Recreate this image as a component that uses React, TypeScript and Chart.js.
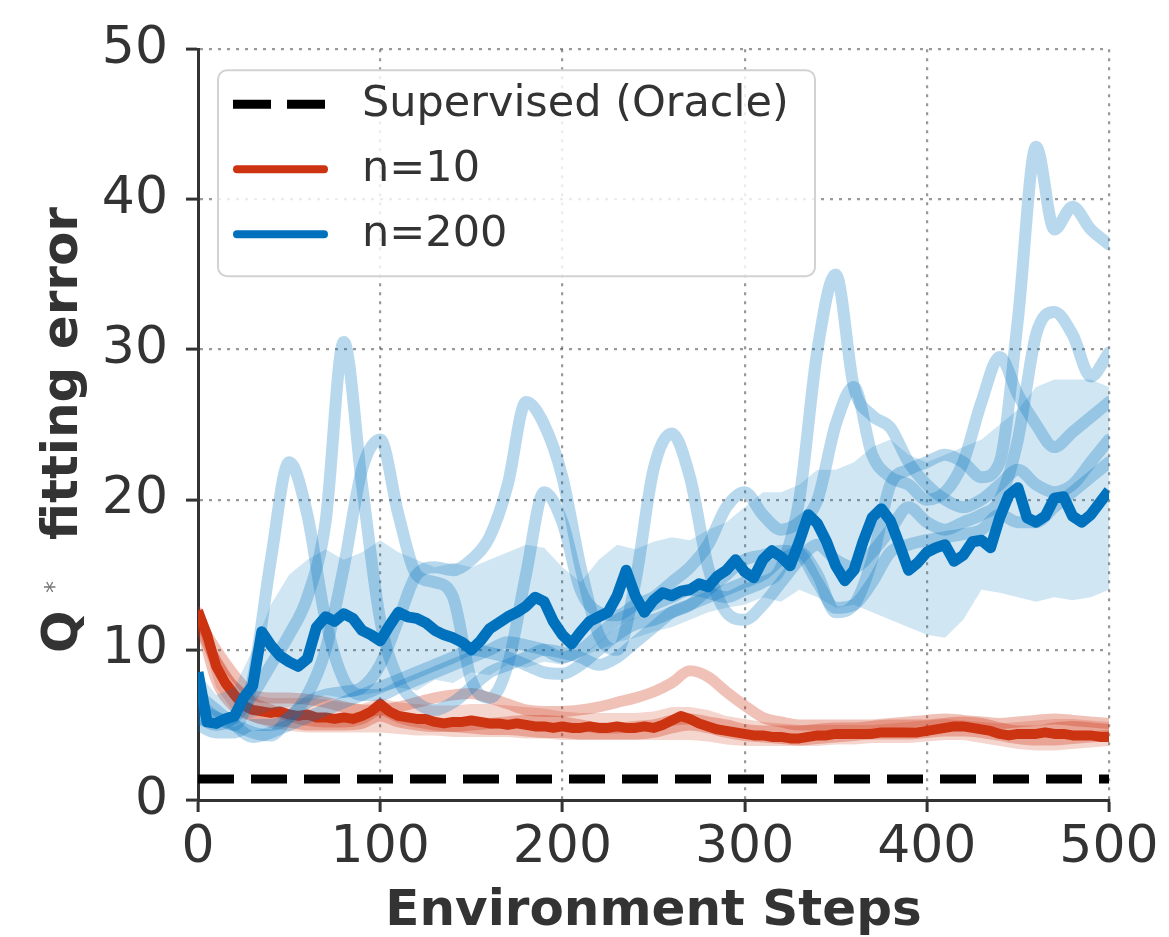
import { useEffect, useRef } from "react";
import { Chart, registerables } from "chart.js";

Chart.register(...registerables);

const FONT = "'DejaVu Sans', 'Liberation Sans', sans-serif";
const TEXT = "#333333";
const BLUE = "rgb(0,114,189)";
const RED = "rgb(204,51,17)";

// ---------- axes ----------
const X_MIN = 0;
const X_MAX = 500;
const X_STEP = 100;
const Y_MIN = 0;
const Y_MAX = 50;
const Y_STEP = 10;
const X_TITLE = "Environment Steps";
const Y_TITLE_MAIN = "Q";
const Y_TITLE_SUP = "*";
const Y_TITLE_REST = "fitting error";
const LEGEND_LABELS = ["Supervised (Oracle)", "n=10", "n=200"];

// ---------- data ----------
const ORACLE_ERROR = 1.4;

// x grids (environment steps)
const stepsCoarse = Array.from({ length: 51 }, (_, i) => i * 10);
const stepsFine = Array.from({ length: 101 }, (_, i) => i * 5);

// n=200 mean (every 5 steps)
const blueMean = [
  8.5, 5.2, 5.1, 5.4, 5.6, 6.8, 7.6, 11.2, 10.3, 9.6,
  9.2, 8.9, 9.4, 11.5, 12.2, 11.9, 12.4, 12.1, 11.3, 11.0,
  10.6, 11.6, 12.5, 12.2, 12.1, 11.8, 11.3, 11.0, 10.8, 10.5,
  10.0, 10.6, 11.4, 11.8, 12.2, 12.5, 12.9, 13.5, 13.2, 11.9,
  11.0, 10.4, 11.2, 11.9, 12.2, 12.5, 13.6, 15.3, 13.6, 12.5,
  13.3, 13.8, 13.6, 13.9, 14.0, 14.4, 14.2, 14.9, 15.3, 16.0,
  15.2, 14.8, 16.0, 16.6, 16.2, 15.6, 17.2, 19.0, 18.4, 17.2,
  15.6, 14.6, 15.3, 17.2, 18.8, 19.4, 18.6, 17.0, 15.3, 15.8,
  16.5, 16.8, 17.0, 15.9, 16.3, 17.2, 17.3, 16.8, 18.8, 20.3,
  20.8, 18.8, 18.5, 18.9, 20.1, 20.2, 18.9, 18.5, 19.0, 19.8,
  20.6,
];

// n=10 mean (every 5 steps)
const redMean = [
  12.6, 11.0, 8.9, 7.8, 7.0, 6.3, 6.0, 5.9, 5.8, 5.9,
  5.7, 5.6, 5.7, 5.5, 5.5, 5.4, 5.5, 5.4, 5.6, 5.9,
  6.4, 5.9, 5.6, 5.5, 5.4, 5.4, 5.2, 5.1, 5.2, 5.2,
  5.3, 5.2, 5.1, 5.1, 5.0, 5.1, 5.0, 4.9, 4.9, 4.8,
  4.9, 4.8, 4.8, 4.9, 4.8, 4.8, 4.9, 4.8, 4.8, 4.9,
  4.8, 5.0, 5.3, 5.6, 5.4, 5.1, 4.9, 4.7, 4.6, 4.5,
  4.4, 4.3, 4.3, 4.2, 4.2, 4.1, 4.1, 4.2, 4.3, 4.3,
  4.4, 4.4, 4.4, 4.4, 4.4, 4.5, 4.5, 4.5, 4.5, 4.5,
  4.6, 4.7, 4.8, 4.9, 4.9, 4.8, 4.7, 4.6, 4.4, 4.3,
  4.4, 4.4, 4.4, 4.5, 4.4, 4.4, 4.3, 4.3, 4.3, 4.2,
  4.2,
];

// shaded bands (every 10 steps)
const blueBandLow = [
  5.0, 4.8, 5.0, 5.5, 6.0, 6.2, 6.5, 7.0, 6.8, 7.0,
  7.2, 7.5, 7.3, 8.0, 7.8, 8.5, 8.3, 9.0, 8.8, 9.2,
  9.0, 9.5, 10.0, 10.5, 10.8, 11.2, 11.5, 12.0, 12.5, 12.8,
  13.0, 13.5, 13.2, 14.0, 13.5, 12.8, 13.0, 12.5, 12.0, 11.5,
  11.0, 10.8, 12.0, 14.0, 13.8, 13.5, 13.2, 13.5, 13.3, 13.5,
  14.0,
];
const blueBandHigh = [
  8.5, 7.0, 7.5, 10.0, 13.0, 15.0, 16.0, 16.7, 16.0, 16.5,
  17.3, 16.5, 16.0, 15.5, 15.8, 15.5, 16.0, 16.5, 17.0, 16.8,
  15.5, 14.5, 16.0, 17.0, 16.7, 17.2, 17.5, 17.3, 18.0, 18.5,
  19.5, 20.5, 20.5, 21.0, 22.0, 22.0, 22.5, 23.5, 24.0, 23.0,
  22.5, 23.0, 23.5, 24.0, 25.0, 26.0, 27.5, 28.0, 28.0, 28.0,
  27.5,
];
const redBandLow = [
  11.5, 7.5, 5.8, 5.2, 4.8, 4.6, 4.5, 4.5, 4.5, 4.5,
  4.5, 4.4, 4.3, 4.3, 4.2, 4.2, 4.2, 4.2, 4.1, 4.1,
  4.0, 4.0, 4.0, 4.0, 4.0, 4.0, 4.0, 4.0, 3.9, 3.7,
  3.6, 3.6, 3.6, 3.6, 3.6, 3.7, 3.7, 3.8, 3.8, 3.8,
  3.9, 4.0, 4.0, 3.8, 3.6, 3.4, 3.3, 3.3, 3.4, 3.5,
  3.6,
];
const redBandHigh = [
  12.8, 10.0, 8.0, 7.0, 6.8, 6.8, 6.8, 6.7, 6.5, 6.4,
  6.8, 6.5, 6.4, 6.3, 6.3, 6.4, 6.4, 6.3, 6.2, 6.1,
  5.9, 5.8, 5.8, 5.8, 5.8, 5.9, 6.2, 6.2, 6.0, 5.6,
  5.4, 5.2, 5.1, 5.0, 5.0, 5.0, 5.0, 5.0, 5.1, 5.2,
  5.3, 5.4, 5.3, 5.2, 5.1, 5.2, 5.3, 5.4, 5.4, 5.3,
  5.2,
];

// individual n=200 runs (every 10 steps)
const blueRun1 = [
  6.5, 5.5, 5.0, 8.0, 16.0, 22.5, 19.0, 12.0, 8.0, 7.0,
  7.0, 7.5, 8.0, 8.5, 9.0, 9.5, 10.0, 10.5, 10.3, 10.0,
  9.5, 10.0, 11.0, 12.0, 12.5, 13.0, 13.5, 14.0, 13.8, 13.5,
  14.0, 14.5, 15.5, 20.0, 30.0, 35.0, 27.5, 25.6, 24.8, 22.5,
  21.0, 20.0, 19.5, 20.0, 21.0, 22.0, 21.0, 20.5, 21.0, 22.5,
  24.0,
];
const blueRun2 = [
  5.5, 5.0, 5.5, 7.0, 9.0, 11.0, 13.5, 18.5, 30.5, 21.0,
  12.0, 8.0, 6.5, 6.0, 6.5, 7.5, 8.5, 9.0, 9.5, 10.0,
  9.8, 9.5, 9.0, 9.5, 10.5, 11.5, 12.5, 13.0, 13.5, 14.0,
  14.5, 15.0, 16.0, 16.5, 15.0, 12.5, 13.0, 16.0, 21.0, 22.0,
  22.5, 23.0, 22.5, 21.5, 22.5, 32.0, 43.5, 38.0, 39.5, 38.0,
  37.0,
];
const blueRun3 = [
  5.0, 4.5, 4.5, 5.0, 5.0, 5.5, 7.0, 10.0, 15.5, 22.0,
  24.0, 19.0, 15.0, 14.5, 13.5, 8.0, 6.8, 9.0, 15.0, 20.5,
  18.5, 14.0, 12.5, 12.3, 13.0, 13.5, 14.5, 15.5, 17.0, 19.5,
  20.5, 19.0, 18.0, 18.5, 20.0, 25.0, 27.5, 23.0, 21.5, 21.0,
  20.0, 20.5, 22.5, 26.5, 29.5, 27.0, 25.0, 23.5, 24.5, 25.5,
  26.5,
];
const blueRun4 = [
  6.0, 5.5, 5.0, 4.5, 4.3, 5.5, 6.5, 7.0, 7.2, 7.5,
  9.0, 12.0, 15.0, 15.5, 15.3, 16.0, 17.5, 21.0, 26.5, 25.0,
  21.5, 15.5, 11.0, 10.0, 14.5, 22.0, 24.4, 21.5, 15.5, 12.5,
  12.0, 13.0, 14.5, 16.0, 17.0, 16.0, 15.5, 16.5, 18.0, 19.5,
  18.5, 18.0, 18.5, 19.0, 20.0, 24.0, 31.0, 32.5, 31.0, 28.2,
  29.8,
];
const blueRun5 = [
  7.0, 6.0, 5.0, 4.2, 4.5, 5.0, 5.5, 6.0, 6.5, 7.0,
  7.5, 8.0, 8.5, 9.0, 9.5, 10.0, 9.8, 9.5, 9.0, 8.5,
  8.4, 9.0, 10.0, 11.0, 11.7, 12.0, 12.5, 13.0, 14.0, 15.0,
  16.0, 16.3, 16.6, 16.4, 14.5, 12.8, 13.0, 14.5, 16.5, 17.0,
  17.3, 17.5, 17.7, 18.0, 19.0, 18.5, 18.5, 19.5, 20.5, 21.5,
  22.5,
];

// individual n=10 runs (every 10 steps)
const redRun1 = [
  12.0, 10.0, 8.3, 7.0, 6.8, 6.8, 6.7, 6.5, 6.2, 6.0,
  6.0, 6.2, 6.5, 6.8, 7.0, 7.1, 6.8, 6.4, 6.0, 5.9,
  5.9, 6.0, 6.2, 6.5, 6.8, 7.2, 7.8, 8.6, 8.2, 7.2,
  6.3, 5.5, 5.2, 5.0, 5.0, 5.0, 5.0, 5.0, 5.1, 5.2,
  5.3, 5.4, 5.3, 5.2, 5.1, 5.2, 5.3, 5.4, 5.3, 5.2,
  5.1,
];
const redRun2 = [
  11.8, 9.2, 7.5, 6.5, 6.0, 5.6, 5.3, 5.2, 5.2, 5.4,
  6.0, 5.5, 5.2, 5.0, 4.9, 4.8, 4.7, 4.7, 4.6, 4.5,
  4.5, 4.4, 4.4, 4.4, 4.4, 4.5, 4.8, 5.0, 4.8, 4.5,
  4.3, 4.2, 4.1, 4.0, 4.1, 4.2, 4.3, 4.4, 4.4, 4.4,
  4.5, 4.6, 4.6, 4.5, 4.3, 4.1, 4.0, 4.0, 4.1, 4.2,
  4.3,
];
const redRun3 = [
  12.5, 8.0, 6.2, 5.6, 5.3, 5.2, 5.0, 5.0, 5.0, 5.1,
  5.6, 5.2, 5.0, 4.9, 4.9, 5.0, 5.1, 5.2, 5.3, 5.3,
  5.2, 5.0, 4.8, 4.8, 4.9, 5.0, 5.3, 5.4, 5.2, 5.0,
  4.7, 4.6, 4.6, 4.6, 4.7, 4.8, 4.8, 4.9, 5.0, 5.0,
  5.0, 5.1, 5.2, 5.1, 4.8, 4.6, 4.6, 4.8, 4.9, 4.8,
  4.7,
];

const blueRuns = [blueRun1, blueRun2, blueRun3, blueRun4, blueRun5];
const redRuns = [redRun1, redRun2, redRun3];

const toPoints = (xs: number[], ys: number[]) => ys.map((y, i) => ({ x: xs[i], y }));

export default function App() {
  const canvasRef = useRef<HTMLCanvasElement | null>(null);

  useEffect(() => {
    const canvas = canvasRef.current;
    if (!canvas) return;

    const datasets: any[] = [];
    let order = 100;

    // oracle dashed line
    datasets.push({
      label: LEGEND_LABELS[0],
      data: [
        { x: X_MIN, y: ORACLE_ERROR },
        { x: X_MAX, y: ORACLE_ERROR },
      ],
      borderColor: "#000000",
      borderWidth: 9,
      borderDash: [36, 17],
      borderCapStyle: "butt",
      pointRadius: 0,
      order: order--,
    });

    // red band
    datasets.push({
      data: toPoints(stepsCoarse, redBandLow),
      borderWidth: 0,
      borderColor: "rgba(0,0,0,0)",
      pointRadius: 0,
      fill: false,
      order: order--,
    });
    datasets.push({
      data: toPoints(stepsCoarse, redBandHigh),
      borderWidth: 0,
      borderColor: "rgba(0,0,0,0)",
      backgroundColor: "rgba(204,51,17,0.2)",
      pointRadius: 0,
      fill: "-1",
      order: order--,
    });
    // red runs
    redRuns.forEach((run) => {
      datasets.push({
        data: toPoints(stepsCoarse, run),
        borderColor: "rgba(204,51,17,0.3)",
        borderWidth: 11,
        borderJoinStyle: "round",
        borderCapStyle: "round",
        cubicInterpolationMode: "monotone",
        pointRadius: 0,
        order: order--,
      });
    });
    // red mean
    datasets.push({
      label: LEGEND_LABELS[1],
      data: toPoints(stepsFine, redMean),
      borderColor: RED,
      borderWidth: 10,
      borderJoinStyle: "round",
      pointRadius: 0,
      order: order--,
    });

    // blue band
    datasets.push({
      data: toPoints(stepsCoarse, blueBandLow),
      borderWidth: 0,
      borderColor: "rgba(0,0,0,0)",
      pointRadius: 0,
      fill: false,
      order: order--,
    });
    datasets.push({
      data: toPoints(stepsCoarse, blueBandHigh),
      borderWidth: 0,
      borderColor: "rgba(0,0,0,0)",
      backgroundColor: "rgba(0,114,189,0.18)",
      pointRadius: 0,
      fill: "-1",
      order: order--,
    });
    // blue runs
    blueRuns.forEach((run) => {
      datasets.push({
        data: toPoints(stepsCoarse, run),
        borderColor: "rgba(0,114,189,0.28)",
        borderWidth: 12,
        borderJoinStyle: "round",
        borderCapStyle: "round",
        cubicInterpolationMode: "monotone",
        pointRadius: 0,
        order: order--,
      });
    });
    // blue mean
    datasets.push({
      label: LEGEND_LABELS[2],
      data: toPoints(stepsFine, blueMean),
      borderColor: BLUE,
      borderWidth: 11,
      borderJoinStyle: "round",
      pointRadius: 0,
      order: order--,
    });

    const overlay = {
      id: "overlay",
      afterDraw(chart: any) {
        const { ctx, chartArea } = chart;
        ctx.save();

        // ----- legend -----
        const bx = chartArea.left + 20;
        const by = chartArea.top + 21;
        const bw = 597;
        const bh = 206;
        ctx.beginPath();
        ctx.roundRect(bx, by, bw, bh, 9);
        ctx.fillStyle = "rgba(255,255,255,0.82)";
        ctx.fill();
        ctx.lineWidth = 2;
        ctx.strokeStyle = "#d2d2d2";
        ctx.stroke();

        const rows = [by + 34, by + 99, by + 164];
        const sx0 = bx + 15;
        const sx1 = bx + 110;
        const styles = [
          { color: "#000000", dash: [38, 16], width: 9, cap: "butt" },
          { color: RED, dash: [], width: 8, cap: "round" },
          { color: BLUE, dash: [], width: 8, cap: "round" },
        ];
        rows.forEach((ry, i) => {
          const st = styles[i];
          ctx.beginPath();
          ctx.setLineDash(st.dash);
          ctx.lineCap = st.cap;
          ctx.lineWidth = st.width;
          ctx.strokeStyle = st.color;
          const inset = st.cap === "round" ? 4 : 0;
          ctx.moveTo(sx0 + inset, ry);
          ctx.lineTo(sx1 - inset, ry);
          ctx.stroke();
          ctx.setLineDash([]);
          ctx.font = `43px ${FONT}`;
          ctx.fillStyle = TEXT;
          ctx.textAlign = "left";
          ctx.textBaseline = "middle";
          ctx.fillText(LEGEND_LABELS[i], bx + 144, ry + 1);
        });

        // ----- y axis title -----
        ctx.translate(77, chartArea.bottom - 147);
        ctx.rotate(-Math.PI / 2);
        ctx.textAlign = "left";
        ctx.textBaseline = "alphabetic";
        ctx.fillStyle = TEXT;
        ctx.font = `bold 50px ${FONT}`;
        ctx.fillText(Y_TITLE_MAIN, 0, 0);
        ctx.font = `24px ${FONT}`;
        ctx.fillStyle = "#777777";
        ctx.fillText(Y_TITLE_SUP, 60, -15);
        ctx.font = `bold 50px ${FONT}`;
        ctx.fillStyle = TEXT;
        ctx.fillText(Y_TITLE_REST, 113, 0);

        ctx.restore();
      },
    };

    const gridStyle = {
      color: "rgba(70,70,70,0.55)",
      lineWidth: 2.2,
      tickLength: 12,
      tickColor: TEXT,
      tickWidth: 3,
      drawTicks: true,
    };

    const chart = new Chart(canvas, {
      type: "line",
      data: { datasets },
      options: {
        animation: false,
        responsive: false,
        maintainAspectRatio: false,
        layout: { padding: { left: 0, top: 43, right: 60, bottom: 0 } },
        plugins: {
          legend: { display: false },
          tooltip: { enabled: false },
          filler: { propagate: false },
        },
        elements: { point: { radius: 0 }, line: { tension: 0 } },
        scales: {
          x: {
            type: "linear",
            min: X_MIN,
            max: X_MAX,
            ticks: {
              stepSize: X_STEP,
              font: { family: FONT, size: 52 },
              color: TEXT,
              padding: 5,
              maxRotation: 0,
              autoSkip: false,
            },
            grid: gridStyle,
            border: { display: true, color: TEXT, width: 3, dash: [3, 6] },
            title: {
              display: true,
              text: X_TITLE,
              color: TEXT,
              font: { family: FONT, size: 50, weight: "bold", lineHeight: 1 },
              padding: { top: 0, bottom: 0 },
            },
            afterFit: (s: any) => {
              s.height = 137;
            },
          },
          y: {
            type: "linear",
            min: Y_MIN,
            max: Y_MAX,
            ticks: {
              stepSize: Y_STEP,
              font: { family: FONT, size: 52 },
              color: TEXT,
              padding: 18,
              autoSkip: false,
            },
            grid: gridStyle,
            border: { display: true, color: TEXT, width: 3, dash: [3, 6] },
            afterFit: (s: any) => {
              s.width = 198;
            },
          },
        },
      },
      plugins: [overlay],
    } as any);

    return () => chart.destroy();
  }, []);

  return (
    <div style={{ position: "absolute", left: 0, top: 0, width: 1169, height: 937, background: "#ffffff" }}>
      <canvas ref={canvasRef} width={1169} height={937} style={{ display: "block", width: 1169, height: 937 }} />
    </div>
  );
}
